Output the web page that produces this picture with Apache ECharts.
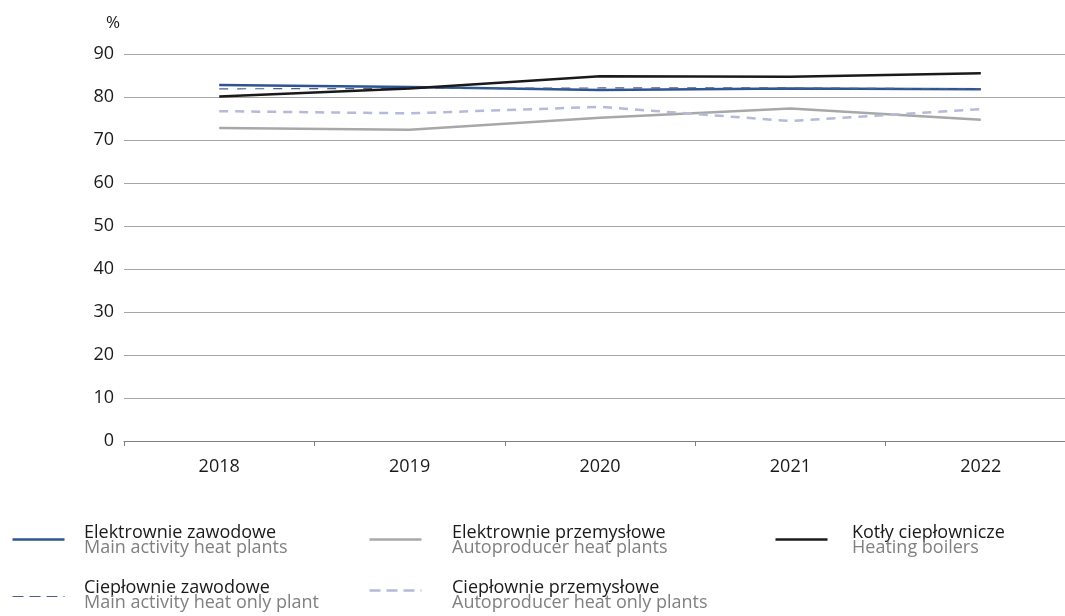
<!DOCTYPE html>
<html>
<head>
<meta charset="utf-8">
<script src="https://cdn.jsdelivr.net/npm/echarts@6/dist/echarts.min.js"></script>
<style>
  html, body { margin: 0; padding: 0; background: #fff; overflow: hidden; }
  #chart { width: 1080px; height: 616px; }
</style>
</head>
<body>
<div id="chart"></div>
<script>
// Years on the category axis
const years = ['2018', '2019', '2020', '2021', '2022'];

// Efficiency in % per plant type
const mainHeatPlants      = [82.8, 82.3, 81.6, 82.0, 81.8];
const autoHeatPlants      = [72.8, 72.4, 75.2, 77.3, 74.7];
const heatingBoilers      = [80.1, 82.0, 84.8, 84.7, 85.5];
const mainHeatOnlyPlants  = [81.9, 82.0, 82.1, 82.1, 81.9];
const autoHeatOnlyPlants  = [76.7, 76.2, 77.7, 74.4, 77.2];

// Legend captions (Polish / English)
const namesPl = ['Elektrownie zawodowe', 'Elektrownie przemysłowe', 'Kotły ciepłownicze',
                 'Ciepłownie zawodowe', 'Ciepłownie przemysłowe'];
const namesEn = ['Main activity heat plants', 'Autoproducer heat plants', 'Heating boilers',
                 'Main activity heat only plant', 'Autoproducer heat only plants'];

const FONT = '"Open Sans", "Noto Sans", sans-serif';

const styles = [
  { color: '#2e5494', width: 2.5, type: 'solid' },
  { color: '#a8a8a8', width: 2.5, type: 'solid' },
  { color: '#1a1a1a', width: 2.5, type: 'solid' },
  { color: '#4a5f8a', width: 1.2, type: [9, 9] },
  { color: '#b5bad9', width: 2.5, type: [9, 7] }
];
const seriesData = [mainHeatPlants, autoHeatPlants, heatingBoilers, mainHeatOnlyPlants, autoHeatOnlyPlants];
const drawOrder = [1, 4, 0, 3, 2];

const series = drawOrder.map(i => ({
  name: namesPl[i],
  type: 'line',
  data: seriesData[i],
  symbol: 'none',
  silent: true,
  lineStyle: { color: styles[i].color, width: styles[i].width, type: styles[i].type },
  z: 3 + drawOrder.indexOf(i)
}));

// Legend blocks: three columns, two rows (sample line + two caption lines)
const legendSlots = [
  { x: 10,  y: 538, tx: 84,  ty: 523.5 },
  { x: 367, y: 538, tx: 452, ty: 523.5 },
  { x: 773, y: 538, tx: 852, ty: 523.5 },
  { x: 10,  y: 595, tx: 84,  ty: 578.5 },
  { x: 367, y: 589, tx: 452, ty: 578.5 }
];
const graphic = [];
legendSlots.forEach((s, i) => {
  const st = styles[i];
  graphic.push({
    type: 'line', left: s.x, top: s.y - 1,
    shape: { x1: 0, y1: 0, x2: 52, y2: 0 },
    style: { stroke: st.color, lineWidth: st.width === 1.2 ? 1.2 : 2.5,
             lineDash: Array.isArray(st.type) ? [11, 6] : null }
  });
  graphic.push({
    type: 'text', left: s.tx, top: s.ty,
    style: { text: namesPl[i], font: '18px ' + FONT, fill: '#1a1a1a' }
  });
  graphic.push({
    type: 'text', left: s.tx, top: s.ty + 15,
    style: { text: namesEn[i], font: '18px ' + FONT, fill: '#808080' }
  });
});

const chart = echarts.init(document.getElementById('chart'), null, { renderer: 'canvas' });
chart.setOption({
  animation: false,
  backgroundColor: '#fff',
  grid: { left: 124, right: 4, top: 54, bottom: 175, containLabel: false },
  xAxis: {
    type: 'category',
    data: years,
    boundaryGap: true,
    axisLine: { lineStyle: { color: '#7f7f7f', width: 1 } },
    axisTick: { show: true, length: 5, lineStyle: { color: '#7f7f7f' } },
    axisLabel: { color: '#1a1a1a', fontSize: 18, fontFamily: FONT, margin: 17 }
  },
  yAxis: {
    type: 'value',
    min: 0, max: 90, interval: 10,
    name: '%',
    nameLocation: 'end',
    nameGap: 22,
    nameTextStyle: { color: '#1a1a1a', fontSize: 17, fontFamily: FONT, align: 'right', padding: [0, 4, 0, 0] },
    axisLine: { show: false },
    axisTick: { show: false },
    axisLabel: { color: '#1a1a1a', fontSize: 18, fontFamily: FONT, margin: 10 },
    splitLine: { lineStyle: { color: '#a6a6a6', width: 1 } }
  },
  series: series,
  graphic: graphic
});
</script>
</body>
</html>
